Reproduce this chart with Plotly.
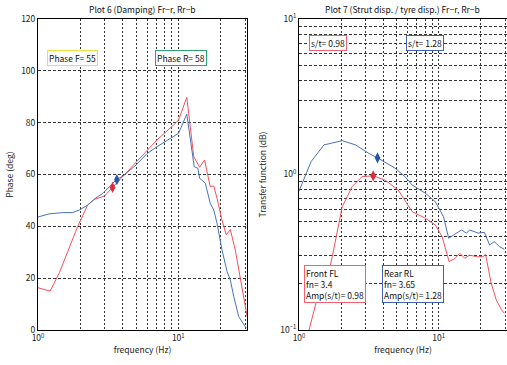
import plotly.graph_objects as go

# ---------------- data ----------------
# Plot 6 phase (deg)
phase_front_f = [1.0, 1.22, 1.42, 1.67, 1.92, 2.26, 2.52, 2.98, 3.38, 4.03, 5.01, 5.9, 7.04, 9.26, 10.05, 11.5,
                 12.9, 14.2, 15.4, 16.9, 17.9, 18.9, 20.5, 22.0, 23.5, 25.5, 27.7, 31.0]
phase_front = [16.3, 15.0, 22.1, 32.0, 40.0, 48.2, 50.4, 51.7, 54.9, 59.4, 64.9, 69.2, 73.3, 79.1, 81.0, 89.8,
               66.9, 62.8, 65.6, 55.3, 55.6, 50.8, 42.4, 36.7, 38.8, 30.9, 20.6, 5.1]
phase_rear_f = [1.0, 1.2, 1.5, 1.77, 1.97, 2.26, 2.59, 2.9, 3.6, 4.03, 5.01, 5.97, 7.04, 9.26, 10.05, 11.5,
                12.5, 13.0, 13.8, 14.2, 14.7, 15.6, 16.9, 17.9, 18.9, 20.5, 22.3, 23.5, 24.9, 27.0, 30.6]
phase_rear = [43.6, 44.8, 45.3, 45.3, 46.3, 48.2, 51.0, 52.7, 57.9, 59.4, 63.7, 68.0, 70.7, 74.6, 75.9, 83.3,
              68.2, 63.0, 62.4, 58.5, 57.9, 56.6, 48.9, 46.3, 41.2, 30.9, 22.5, 19.3, 12.8, 5.1, 0.7]

# Plot 7 transfer function
tf_front_f = [1.1, 1.18, 1.32, 1.51, 1.73, 1.88, 2.04, 2.4, 2.83, 3.42, 4.14, 5.14, 6.47, 8.05, 9.48, 10.6,
              11.5, 11.9, 13.1, 14.2, 15.4, 16.7, 18.7, 20.8, 21.7, 23.8, 25.9, 28.2, 29.6]
tf_front = [0.085, 0.1, 0.148, 0.172, 0.296, 0.44, 0.62, 0.835, 0.97, 0.98, 0.92, 0.794, 0.577, 0.523, 0.473, 0.398,
            0.311, 0.275, 0.289, 0.311, 0.289, 0.303, 0.296, 0.296, 0.307, 0.2, 0.156, 0.135, 0.128]
tf_rear_f = [1.0, 1.22, 1.51, 2.04, 2.54, 3.15, 3.7, 4.87, 5.74, 6.47, 8.05, 9.48, 10.85, 11.8, 12.8, 14.6,
             15.8, 16.7, 19.2, 21.3, 23.2, 25.0, 27.3, 29.6]
tf_rear = [0.78, 1.21, 1.55, 1.65, 1.55, 1.37, 1.27, 1.1, 0.97, 0.855, 0.757, 0.668, 0.535, 0.389, 0.408, 0.44,
           0.42, 0.44, 0.42, 0.425, 0.352, 0.37, 0.344, 0.33]

# resonance markers
fn_front, fn_rear = 3.4, 3.65
phase_at_fn = [55, 58]
amp_at_fn = [0.98, 1.28]

# tick labels
freq_ticks = [1, 2, 3, 4, 5, 6, 7, 8, 9, 10, 20, 30]
freq_text = ["10<sup>0</sup>", "", "", "", "", "", "", "", "", "10<sup>1</sup>", "", ""]
phase_ticks = [0, 20, 40, 60, 80, 100, 120]
tf_ticks = [0.1, 0.2, 0.3, 0.4, 0.5, 0.6, 0.7, 0.8, 0.9, 1, 2, 3, 4, 5, 6, 7, 8, 9, 10]
tf_text = ["10<sup>\u22121</sup>", "", "", "", "", "", "", "", "", "10<sup>0</sup>",
           "", "", "", "", "", "", "", "", "10<sup>1</sup>"]

# ---------------- styling ----------------
RED = "#f2525c"
BLUE = "#4a72b8"
RED_M = "#e02a3a"
BLUE_M = "#2558a8"
FONT = "Noto Sans CJK JP"
FS = 8.5
TXT = "#222"

fig = go.Figure()
fig.add_trace(go.Scatter(x=phase_front_f, y=phase_front, mode="lines", line=dict(color=RED, width=1),
                         xaxis="x", yaxis="y", showlegend=False))
fig.add_trace(go.Scatter(x=phase_rear_f, y=phase_rear, mode="lines", line=dict(color=BLUE, width=1),
                         xaxis="x", yaxis="y", showlegend=False))
fig.add_trace(go.Scatter(x=[fn_front], y=[phase_at_fn[0]], mode="markers",
                         marker=dict(symbol="diamond-tall", size=8, color=RED_M), xaxis="x", yaxis="y", showlegend=False))
fig.add_trace(go.Scatter(x=[fn_rear], y=[phase_at_fn[1]], mode="markers",
                         marker=dict(symbol="diamond-tall", size=8, color=BLUE_M), xaxis="x", yaxis="y", showlegend=False))

fig.add_trace(go.Scatter(x=tf_front_f, y=tf_front, mode="lines", line=dict(color=RED, width=1),
                         xaxis="x2", yaxis="y2", showlegend=False))
fig.add_trace(go.Scatter(x=tf_rear_f, y=tf_rear, mode="lines", line=dict(color=BLUE, width=1),
                         xaxis="x2", yaxis="y2", showlegend=False))
fig.add_trace(go.Scatter(x=[fn_front], y=[amp_at_fn[0]], mode="markers",
                         marker=dict(symbol="diamond-tall", size=8, color=RED_M), xaxis="x2", yaxis="y2", showlegend=False))
fig.add_trace(go.Scatter(x=[fn_rear], y=[amp_at_fn[1]], mode="markers",
                         marker=dict(symbol="diamond-tall", size=8, color=BLUE_M), xaxis="x2", yaxis="y2", showlegend=False))

tickfont = dict(size=FS, family=FONT, color=TXT)
titlefont = dict(size=FS, family=FONT, color=TXT)
common_x = dict(type="log", range=[0, 1.49], tickvals=freq_ticks, ticktext=freq_text,
                showgrid=True, gridcolor="#333", griddash="2px,2px", gridwidth=1,
                showline=True, linecolor="black", linewidth=1, mirror=True, automargin=False,
                ticks="", zeroline=False, tickfont=tickfont,
                title=dict(text="frequency (Hz)", font=titlefont, standoff=4))
common_y = dict(showgrid=True, gridcolor="#333", griddash="3px,2px", gridwidth=1,
                showline=True, linecolor="black", linewidth=1, mirror=True, ticks="", zeroline=False,
                automargin=False, tickfont=tickfont)

fig.update_layout(
    width=507, height=365,
    margin=dict(l=38, r=0, t=19, b=35),
    paper_bgcolor="white", plot_bgcolor="white",
    font=dict(family=FONT, size=FS, color=TXT),
    xaxis=dict(domain=[0, 0.4456], anchor="y", **common_x),
    xaxis2=dict(domain=[0.5565, 1], anchor="y2", **common_x),
    yaxis=dict(range=[0, 120], tickvals=phase_ticks, anchor="x",
               title=dict(text="Phase (deg)", font=titlefont, standoff=6), **common_y),
    yaxis2=dict(type="log", range=[-1, 1], tickvals=tf_ticks, ticktext=tf_text, anchor="x2",
                title=dict(text="Transfer function (dB)", font=titlefont, standoff=12), **common_y),
)

ann_font = dict(size=FS, family=FONT, color="#111")
def box(text, x, y, xref, yref, border):
    fig.add_annotation(text=text, x=x, y=y, xref=xref, yref=yref, xanchor="left", yanchor="middle",
                       showarrow=False, bgcolor="white", bordercolor=border, borderwidth=1, borderpad=1,
                       align="left", font=ann_font)

# titles
fig.add_annotation(text="Plot 6 (Damping) Fr\u2212r, Rr\u2212b", x=0.2228, y=1.0, xref="paper", yref="paper",
                   xanchor="center", yanchor="bottom", yshift=2, showarrow=False, font=ann_font)
fig.add_annotation(text="Plot 7 (Strut disp. / tyre disp.) Fr\u2212r, Rr\u2212b", x=0.778, y=1.0, xref="paper",
                   yref="paper", xanchor="center", yanchor="bottom", yshift=2, showarrow=False, font=ann_font)

box("Phase F= %g" % phase_at_fn[0], 0.065, 105, "x", "y", "#e8e040")
box("Phase R= %g" % phase_at_fn[1], 0.836, 105, "x", "y", "#2fa070")
box("s/t= %g" % amp_at_fn[0], 0.071, 0.846, "x2", "y2", "#f06070")
box("s/t= %g" % amp_at_fn[1], 0.766, 0.846, "x2", "y2", "#4060b0")
box("Front FL<br>fn= %g<br>Amp(s/t)= %g" % (fn_front, amp_at_fn[0]), 0.035, -0.704, "x2", "y2", "#f06070")
box("Rear RL<br>fn= %g<br>Amp(s/t)= %g" % (fn_rear, amp_at_fn[1]), 0.596, -0.704, "x2", "y2", "#4060b0")

fig.write_html("out.html", config={"displayModeBar": False},
               post_script="document.body.style.margin='0';document.documentElement.style.overflow='hidden';")
